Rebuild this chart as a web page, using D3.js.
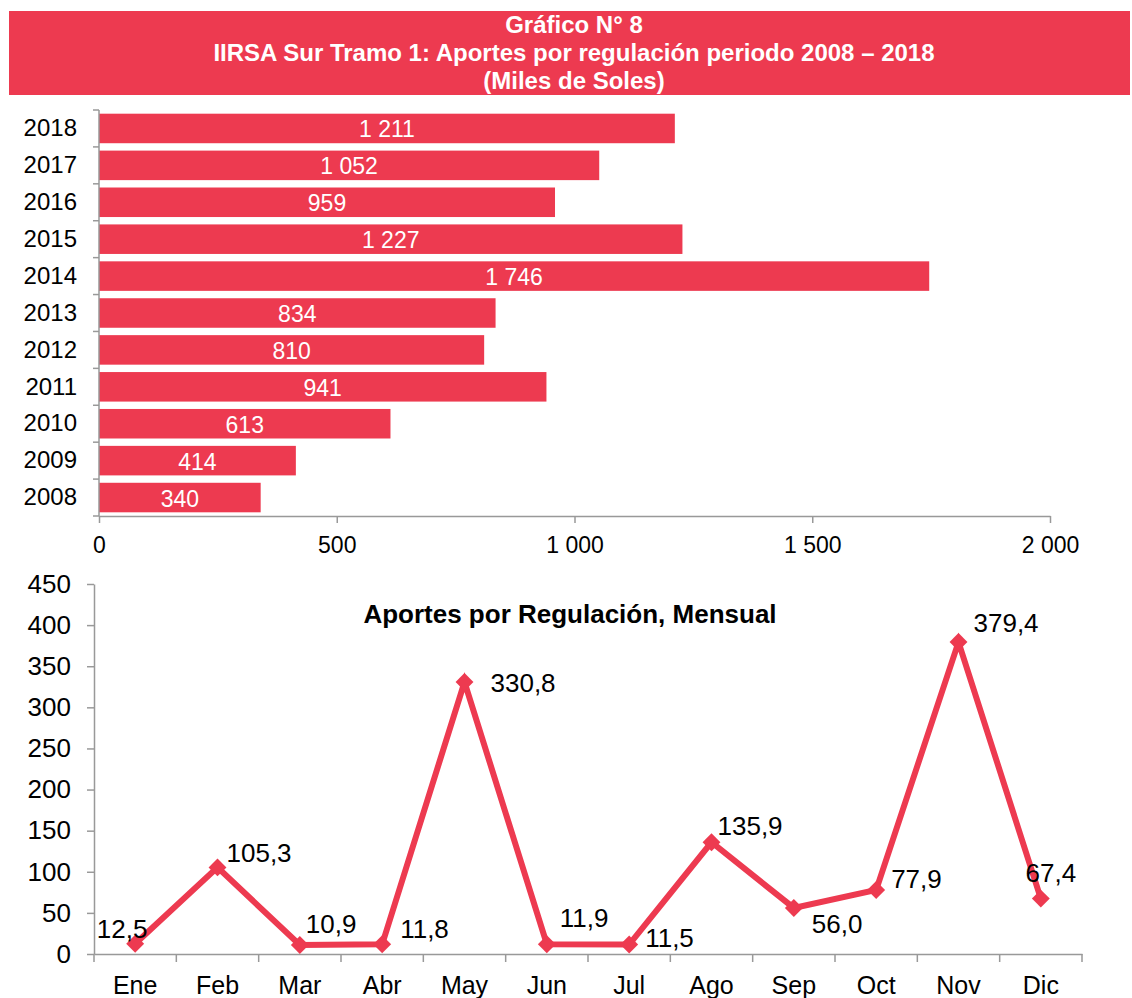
<!DOCTYPE html>
<html>
<head>
<meta charset="utf-8">
<script src="https://cdn.jsdelivr.net/npm/d3@7"></script>
<style>
  body { margin: 0; background: #fff; }
  svg { display: block; font-family: "Liberation Sans", Arial, sans-serif; }
</style>
</head>
<body>
<svg id="chart" width="1132" height="998"></svg>
<script>
const red = "#ED3A50";
const axisGray = "#999999";

// yearly totals (miles de soles)
const years = ["2008", "2009", "2010", "2011", "2012", "2013", "2014", "2015", "2016", "2017", "2018"];
const yearValues = [340, 414, 613, 941, 810, 834, 1746, 1227, 959, 1052, 1211];
const barTicks = [0, 500, 1000, 1500, 2000];

// monthly values
const months = ["Ene", "Feb", "Mar", "Abr", "May", "Jun", "Jul", "Ago", "Sep", "Oct", "Nov", "Dic"];
const monthValues = [12.5, 105.3, 10.9, 11.8, 330.8, 11.9, 11.5, 135.9, 56.0, 77.9, 379.4, 67.4];
const lineTicks = [0, 50, 100, 150, 200, 250, 300, 350, 400, 450];

// label placement around each point: [dx, dy, anchor]
const labelPos = [
  [-13, -6, "middle"], [9, -5, "start"], [6, -12, "start"], [18, -6, "start"],
  [26, 10, "start"], [13, -17, "start"], [16, 2, "start"], [6, -7, "start"],
  [18, 25, "start"], [15, -2, "start"], [15, -10, "start"], [10, -17, "middle"]
];

const fmtSpace = v => d3.format(",")(v).replace(/,/g, " ");
const fmtComma = v => v.toFixed(1).replace(".", ",");

const svg = d3.select("#chart");

// ---- title banner ----
svg.append("rect")
  .attr("x", 9).attr("y", 11).attr("width", 1121).attr("height", 84)
  .attr("fill", red);

const titleLines = ["Gráfico N° 8", "IIRSA Sur Tramo 1: Aportes por regulación periodo 2008 – 2018", "(Miles de Soles)"];
svg.append("g").selectAll("text")
  .data(titleLines)
  .join("text")
  .attr("x", 574)
  .attr("y", (d, i) => 33 + i * 28)
  .attr("text-anchor", "middle")
  .attr("fill", "#fff")
  .attr("font-weight", "bold")
  .attr("font-size", 24)
  .text(d => d);

// ---- bar chart ----
const bx = d3.scaleLinear().domain([0, 2000]).range([99, 1050]);
const by = d3.scaleBand().domain(years.slice().reverse()).range([110, 516]).paddingInner(0.2).paddingOuter(0.1);

const bars = svg.append("g");
bars.selectAll("rect")
  .data(years)
  .join("rect")
  .attr("x", bx(0))
  .attr("y", d => by(d))
  .attr("width", (d, i) => bx(yearValues[i]) - bx(0))
  .attr("height", by.bandwidth())
  .attr("fill", red);

bars.selectAll("text")
  .data(years)
  .join("text")
  .attr("x", (d, i) => (bx(0) + bx(yearValues[i])) / 2)
  .attr("y", d => by(d) + by.bandwidth() / 2 + 9)
  .attr("text-anchor", "middle")
  .attr("fill", "#fff")
  .attr("font-size", 23)
  .text((d, i) => fmtSpace(yearValues[i]));

// y axis with ticks at category boundaries
const byAxis = svg.append("g").attr("transform", `translate(${bx(0)},0)`)
  .call(d3.axisLeft(by).tickSize(0).tickPadding(22));
byAxis.select(".domain").remove();
byAxis.selectAll("text").attr("font-size", 24).attr("fill", "#000").attr("font-family", null);
const bounds = d3.range(years.length + 1).map(i => 110 + i * (406 / years.length));
svg.append("g").selectAll("line")
  .data(bounds)
  .join("line")
  .attr("x1", bx(0) - 6).attr("x2", bx(0))
  .attr("y1", d => d).attr("y2", d => d)
  .attr("stroke", axisGray).attr("stroke-width", 1.5);
svg.append("line")
  .attr("x1", bx(0)).attr("x2", bx(0)).attr("y1", 110).attr("y2", 516)
  .attr("stroke", axisGray).attr("stroke-width", 1.5);

const bxAxis = svg.append("g").attr("transform", "translate(0,516)")
  .call(d3.axisBottom(bx).tickValues(barTicks).tickSize(7).tickSizeOuter(0).tickPadding(14).tickFormat(fmtSpace));
bxAxis.select(".domain").attr("stroke", axisGray).attr("stroke-width", 1.5);
bxAxis.selectAll(".tick line").attr("stroke", axisGray).attr("stroke-width", 1.5);
bxAxis.selectAll("text").attr("font-size", 23).attr("fill", "#000").attr("font-family", null);

// ---- line chart ----
const lx = d3.scaleBand().domain(months).range([94, 1082]);
const ly = d3.scaleLinear().domain([0, 450]).range([954, 584]);
const cx = m => lx(m) + lx.bandwidth() / 2;

const lyAxis = svg.append("g").attr("transform", "translate(94,0)")
  .call(d3.axisLeft(ly).tickValues(lineTicks).tickSize(7).tickSizeOuter(0).tickPadding(16));
lyAxis.select(".domain").attr("stroke", axisGray).attr("stroke-width", 1.5);
lyAxis.selectAll(".tick line").attr("stroke", axisGray).attr("stroke-width", 1.5);
lyAxis.selectAll("text").attr("font-size", 26).attr("fill", "#000").attr("font-family", null);

const lxAxis = svg.append("g").attr("transform", "translate(0,954)")
  .call(d3.axisBottom(lx).tickSize(0).tickPadding(22));
lxAxis.select(".domain").attr("stroke", axisGray).attr("stroke-width", 1.5);
lxAxis.selectAll("text").attr("font-size", 25).attr("fill", "#000").attr("font-family", null);
const mBounds = d3.range(months.length + 1).map(i => 94 + i * lx.step());
svg.append("g").selectAll("line")
  .data(mBounds)
  .join("line")
  .attr("x1", d => d).attr("x2", d => d)
  .attr("y1", 954).attr("y2", 962)
  .attr("stroke", axisGray).attr("stroke-width", 1.5);

svg.append("text")
  .attr("x", 570).attr("y", 623)
  .attr("text-anchor", "middle")
  .attr("font-weight", "bold")
  .attr("font-size", 26)
  .text("Aportes por Regulación, Mensual");

const line = d3.line()
  .x((d, i) => cx(months[i]))
  .y(d => ly(d));

svg.append("path")
  .datum(monthValues)
  .attr("d", line)
  .attr("fill", "none")
  .attr("stroke", red)
  .attr("stroke-width", 6)
  .attr("stroke-linejoin", "miter");

const diamond = d3.symbol().type(d3.symbolSquare).size(160);
svg.append("g").selectAll("path")
  .data(monthValues)
  .join("path")
  .attr("d", diamond)
  .attr("transform", (d, i) => `translate(${cx(months[i])},${ly(d)}) rotate(45)`)
  .attr("fill", red);

svg.append("g").selectAll("text")
  .data(monthValues)
  .join("text")
  .attr("x", (d, i) => cx(months[i]) + labelPos[i][0])
  .attr("y", (d, i) => ly(d) + labelPos[i][1])
  .attr("text-anchor", (d, i) => labelPos[i][2])
  .attr("font-size", 26)
  .attr("fill", "#000")
  .text(fmtComma);
</script>
</body>
</html>
